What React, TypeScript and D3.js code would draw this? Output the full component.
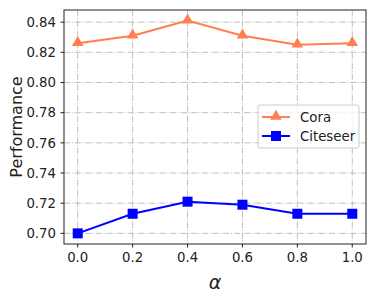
import React from 'react';
import * as d3 from 'd3';

const alphas = [0.0, 0.2, 0.4, 0.6, 0.8, 1.0];
const cora = [0.826, 0.831, 0.841, 0.831, 0.825, 0.826];
const citeseer = [0.700, 0.713, 0.721, 0.719, 0.713, 0.713];
const xTicks = [0.0, 0.2, 0.4, 0.6, 0.8, 1.0];
const yTicks = [0.70, 0.72, 0.74, 0.76, 0.78, 0.80, 0.82, 0.84];

const W = 376;
const H = 302;
const left = 64;
const right = 366;
const top = 10;
const bottom = 244;
const font = 'DejaVu Sans, sans-serif';
const gridDash = '6.4,1.6,1,1.6';

const App = () => {
    const x = d3.scaleLinear().domain([-0.05, 1.05]).range([left, right]);
    const y = d3.scaleLinear().domain([0.69295, 0.84805]).range([bottom, top]);
    const line = d3.line<number>().x((d, i) => x(alphas[i])).y(d => y(d));
    const tri = d3.symbol().type(d3.symbolTriangle).size(58)();
    const sq = d3.symbol().type(d3.symbolSquare).size(100)();

    return (
        <svg width={W} height={H} style={{ position: 'absolute', left: 0, top: 0 }}>
            <rect width={W} height={H} fill="#fff" />
            {/* grid */}
            <g stroke="#b0b0b0" strokeWidth="0.8" strokeDasharray={gridDash}>
                {xTicks.map(t => <line key={'gx' + t} x1={x(t)} x2={x(t)} y1={top} y2={bottom} />)}
                {yTicks.map(t => <line key={'gy' + t} x1={left} x2={right} y1={y(t)} y2={y(t)} />)}
            </g>
            {/* lines */}
            <path d={line(cora) || ''} fill="none" stroke="#FF7F50" strokeWidth="2" />
            <path d={line(citeseer) || ''} fill="none" stroke="#0000FF" strokeWidth="2" />
            {cora.map((v, i) => (
                <path key={'c' + i} d={tri} transform={`translate(${x(alphas[i])},${y(v) - 0.5})`} fill="#FF7F50" />
            ))}
            {citeseer.map((v, i) => (
                <path key={'s' + i} d={sq} transform={`translate(${x(alphas[i])},${y(v)})`} fill="#0000FF" />
            ))}
            {/* spines */}
            <rect x={left} y={top} width={right - left} height={bottom - top} fill="none" stroke="#222" strokeWidth="1" />
            {/* ticks */}
            <g fontFamily={font} fontSize="13.3" fill="#222">
                {xTicks.map(t => (
                    <g key={'tx' + t}>
                        <line x1={x(t)} x2={x(t)} y1={bottom} y2={bottom + 3.5} stroke="#222" />
                        <text x={x(t)} y={262} textAnchor="middle">{t.toFixed(1)}</text>
                    </g>
                ))}
                {yTicks.map(t => (
                    <g key={'ty' + t}>
                        <line x1={left - 3.5} x2={left} y1={y(t)} y2={y(t)} stroke="#222" />
                        <text x={56} y={y(t)} dy="0.36em" textAnchor="end">{t.toFixed(2)}</text>
                    </g>
                ))}
            </g>
            <text x={16} y={(top + bottom) / 2} transform={`rotate(-90,16,${(top + bottom) / 2})`} textAnchor="middle"
                dy="0.35em" fontFamily={font} fontSize="16" fill="#222">Performance</text>
            <text x={(left + right) / 2} y={289} textAnchor="middle" fontFamily={font} fontStyle="italic"
                fontSize="19" fill="#222">α</text>
            {/* legend */}
            <g>
                <rect x={258} y={105} width={101} height={43} rx="2" fill="#fff" fillOpacity="0.8" stroke="#ccc" />
                <line x1={262} x2={290} y1={117} y2={117} stroke="#FF7F50" strokeWidth="2" />
                <path d={tri} transform="translate(276,116.5)" fill="#FF7F50" />
                <text x={300} y={117} dy="0.36em" fontFamily={font} fontSize="13.3" fill="#222">Cora</text>
                <line x1={262} x2={290} y1={136} y2={136} stroke="#0000FF" strokeWidth="2" />
                <path d={sq} transform="translate(276,136)" fill="#0000FF" />
                <text x={300} y={136} dy="0.36em" fontFamily={font} fontSize="13.3" fill="#222">Citeseer</text>
            </g>
        </svg>
    );
};

export default App;
